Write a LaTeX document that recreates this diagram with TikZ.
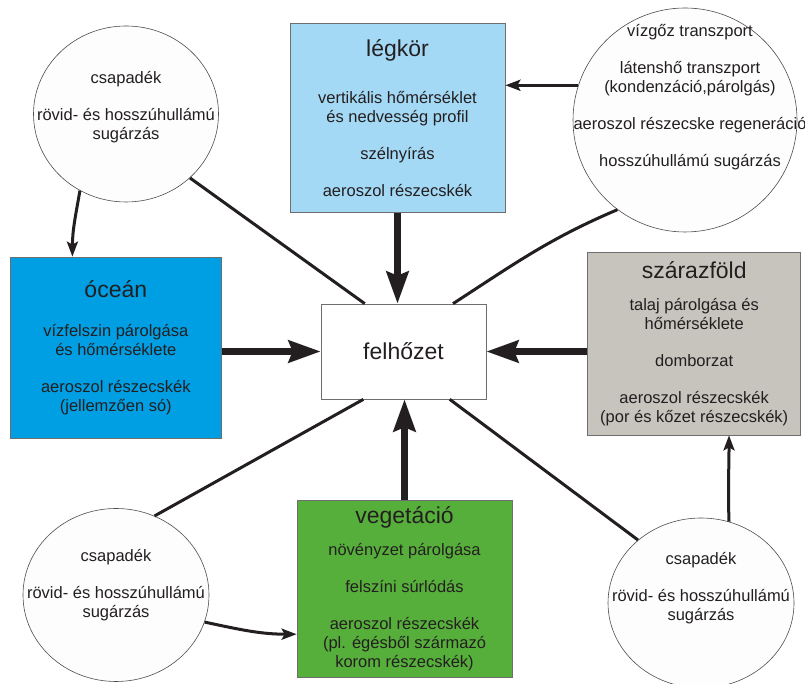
\documentclass[tikz,border=0pt]{standalone}
\usepackage{fontspec}
\setmainfont{Liberation Sans}
\usepackage{xcolor}
\usepackage{tikz}
\usetikzlibrary{arrows.meta, shapes.geometric, positioning, calc}
\definecolor{ink}{HTML}{231F20}
\definecolor{edge}{HTML}{6E6E6E}
\definecolor{legkorfill}{HTML}{A4D9F5}
\definecolor{oceanfill}{HTML}{009FE3}
\definecolor{landfill}{HTML}{C7C3BD}
\definecolor{vegfill}{HTML}{57AF3B}
\definecolor{bubblefill}{HTML}{FDFDFD}
\newcommand{\boxbody}{\fontsize{16.5}{19}\selectfont}
\newcommand{\boxtitle}{\fontsize{23}{27}\selectfont}

\begin{document}
\begin{tikzpicture}[
  x=1pt, y=1pt,
  box/.style={draw=edge, line width=0.7pt, text=ink, align=center,
              font=\boxbody, inner sep=0pt},
  bubble/.style={ellipse, draw=ink!80, fill=bubblefill, line width=0.6pt, inner sep=0pt},
  bubtext/.style={align=center, font=\boxbody, text=ink},
  bigarrow/.style={-{Stealth[length=32pt, width=22pt, inset=4pt]}, line width=6.5pt, ink},
  arrow/.style={-{Stealth[length=15pt, width=11pt, inset=3pt]}, line width=3pt, ink},
  link/.style={line width=3pt, ink}
]
  \useasboundingbox (0,0) rectangle (805,684);

  \node[box, fill=white, minimum width=165pt, minimum height=95pt, font=\boxtitle] (cloud) at (403.5,332.5) {felhőzet};

  \node[box, fill=legkorfill, minimum width=215pt, minimum height=189pt,
        above=91pt of cloud, xshift=-6pt] (legkor)
    {{\boxtitle légkör}\\[28pt]vertikális hőmérséklet\\és nedvesség profil\\[18pt]szélnyírás\\[18pt]aeroszol részecskék};
  \node[box, fill=oceanfill, minimum width=211pt, minimum height=181pt,
        left=99pt of cloud, yshift=4pt] (ocean)
    {{\boxtitle óceán}\\[20pt]vízfelszin párolgása\\és hőmérséklete\\[18pt]aeroszol részecskék\\(jellemzően só)};
  \node[box, fill=landfill, minimum width=213pt, minimum height=183pt,
        right=101pt of cloud, yshift=8pt] (szaraz)
    {{\boxtitle szárazföld}\\[13pt]talaj párolgása és\\hőmérséklete\\[18pt]domborzat\\[18pt]aeroszol részecskék\\(por és kőzet részecskék)};
  \node[box, fill=vegfill, minimum width=215pt, minimum height=177pt,
        below=101pt of cloud, xshift=1pt] (veg)
    {{\boxtitle vegetáció}\\[13pt]növényzet párolgása\\[18pt]felszíni súrlódás\\[18pt]aeroszol részecskék\\(pl. égésből származó\\korom részecskék)};

  % circles round the boxes
  \node[bubble, minimum width=185pt, minimum height=176pt,
        label={[bubtext, yshift=7pt]center:{csapadék\\[18pt]rövid- és hosszúhullámú\\sugárzás}}] (tl) at (126,570) {};
  \node[bubble, minimum width=224pt, minimum height=224pt,
        label={[bubtext, yshift=23pt, xshift=5pt]center:{vízgőz transzport\\[18pt]látenshő transzport\\(kondenzáció,párolgás)\\[18pt]aeroszol részecske regeneráció\\[18pt]hosszúhullámú sugárzás}}] (tr) at (685,564) {};
  \node[bubble, minimum width=186pt, minimum height=173pt,
        label={[bubtext, yshift=10pt]center:{csapadék\\[18pt]rövid- és hosszúhullámú\\sugárzás}}] (bl) at (116,89) {};
  \node[bubble, minimum width=186pt, minimum height=170pt,
        label={[bubtext, yshift=15pt]center:{csapadék\\[18pt]rövid- és hosszúhullámú\\sugárzás}}] (br) at (701,81) {};

  \draw[link] (tl.-45) -- (cloud.129);
  \draw[link] (tr.233) to[out=203, in=33] (cloud.44);
  \draw[link] (bl.64) -- (cloud.230);
  \draw[link] (br.135) -- (cloud.-46);

  \draw[arrow] (tl.239) to[out=-100, in=90] ($(ocean.north west)!0.295!(ocean.north east)$);
  \draw[arrow] (tr.162) -- (tr.162 -| legkor.east);
  \draw[arrow] (bl.-17) to[out=-12, in=180] ($(veg.west)+(0,-45)$);
  \draw[arrow] (br.71) to[out=92, in=-90] (br.71 |- szaraz.south);

  \draw[bigarrow] (legkor.south) -- (legkor.south |- cloud.north);
  \draw[bigarrow] (cloud.west -| ocean.east) -- (cloud.west);
  \draw[bigarrow] (cloud.east -| szaraz.west) -- (cloud.east);
  \draw[bigarrow] (veg.north) -- (veg.north |- cloud.south);
\end{tikzpicture}
\end{document}
